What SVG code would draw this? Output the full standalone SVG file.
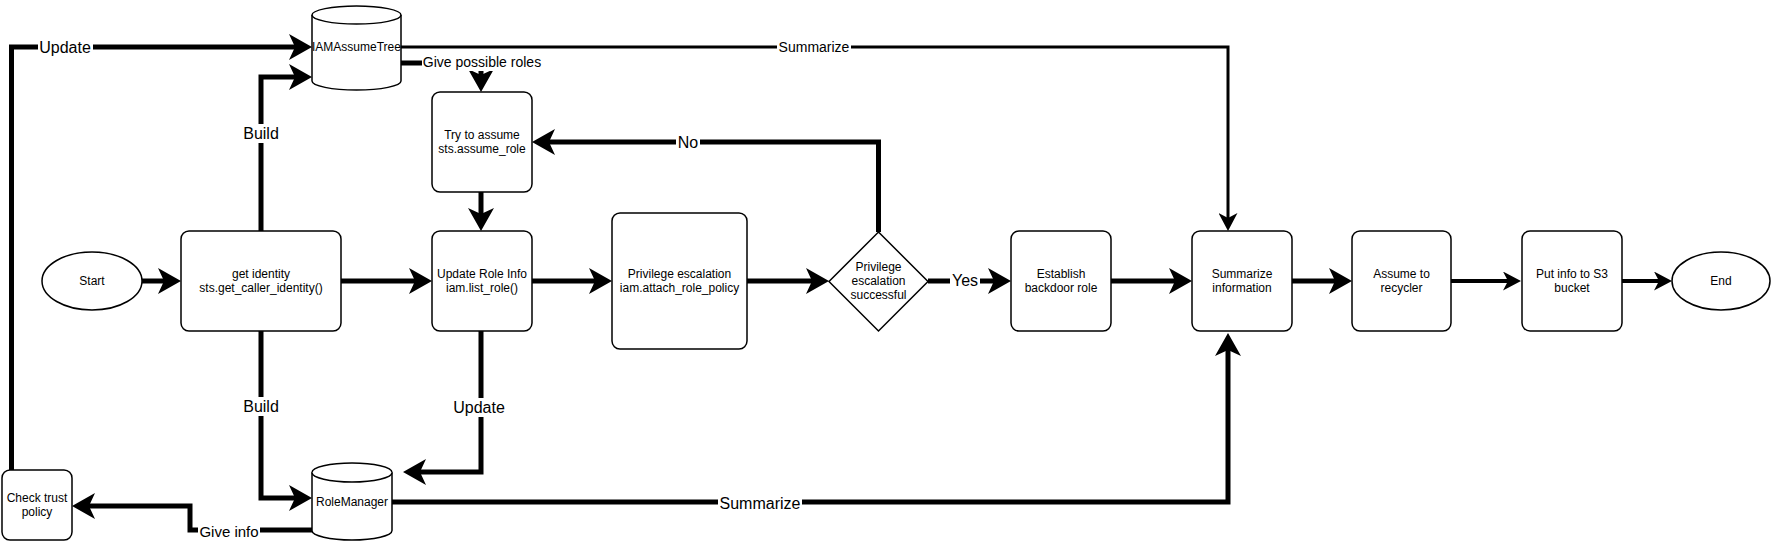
<svg xmlns="http://www.w3.org/2000/svg" width="1772" height="542" viewBox="0 0 1772 542">
<style>
text{font-family:"Liberation Sans",Arial,Helvetica,sans-serif;fill:#000;text-anchor:middle;dominant-baseline:central}
.nt{font-size:12px}
.shape{fill:#fff;stroke:#000;stroke-width:1.5}
.e5{fill:none;stroke:#000;stroke-width:5;marker-end:url(#ab)}
.e4{fill:none;stroke:#000;stroke-width:4;marker-end:url(#as)}
.e3{fill:none;stroke:#000;stroke-width:3;marker-end:url(#as)}
.lb{fill:#fff;stroke:none}
.l16{font-size:16px}
.l15{font-size:15px}
.l14{font-size:14px}
</style>
<defs>
<marker id="ab" markerUnits="userSpaceOnUse" markerWidth="24" markerHeight="26" viewBox="0 0 24 26" refX="8" refY="13" orient="auto">
<path d="M0,0 L23,13 L0,26 L6,13 Z" fill="#000"/>
</marker>
<marker id="as" markerUnits="userSpaceOnUse" markerWidth="19" markerHeight="19" viewBox="0 0 19 19" refX="6" refY="9.5" orient="auto">
<path d="M0,0 L18,9.5 L0,19 L5,9.5 Z" fill="#000"/>
</marker>
</defs>
<g id="connectors">
<path class="e5" d="M142,281 H166"/>
<path class="e5" d="M341,281 H417"/>
<path class="e5" d="M532,281 H597"/>
<path class="e5" d="M747,281 H814"/>
<path class="e5" d="M928,281 H996"/>
<path class="e5" d="M1111,281 H1177"/>
<path class="e5" d="M1292,281 H1337"/>
<path class="e4" d="M1451,281 H1509"/>
<path class="e4" d="M1622,281 H1660"/>
<path class="e5" d="M481,192 V216"/>
<path class="e5" d="M878.5,232 V142 H547"/>
<path class="e5" d="M401,63 H481 V77"/>
<path class="e5" d="M11.5,470 V47 H297"/>
<path class="e5" d="M261,231 V77 H297"/>
<path class="e5" d="M261,331 V498 H297"/>
<path class="e5" d="M481,331 V472 H418"/>
<path class="e5" d="M312,530 H190 V506 H87"/>
<path class="e5" d="M392,502 H1228 V348"/>
<path class="e3" d="M401,47 H1228 V219"/>
<g id="edge-labels">
<rect class="lb" x="38" y="38" width="55" height="19"/><text class="l16" x="65" y="47">Update</text>
<rect class="lb" x="242" y="124" width="38" height="19"/><text class="l16" x="261" y="133">Build</text>
<rect class="lb" x="242" y="397" width="38" height="19"/><text class="l16" x="261" y="406">Build</text>
<rect class="lb" x="452" y="398" width="55" height="19"/><text class="l16" x="479" y="407">Update</text>
<rect class="lb" x="676" y="133" width="24" height="19"/><text class="l16" x="688" y="142">No</text>
<rect class="lb" x="950" y="271" width="30" height="19"/><text class="l16" x="965" y="280">Yes</text>
<rect class="lb" x="198" y="522" width="62" height="18"/><text class="l15" x="229" y="531">Give info</text>
<rect class="lb" x="422" y="54" width="121" height="17"/><text class="l14" x="482" y="62">Give possible roles</text>
<rect class="lb" x="777" y="39" width="74" height="17"/><text class="l14" x="814" y="47">Summarize</text>
<rect class="lb" x="718" y="493" width="84" height="19"/><text class="l16" x="760" y="503">Summarize</text>
</g>
</g>
<g id="start"><ellipse class="shape" cx="92" cy="281" rx="50" ry="29"/><text class="nt" x="92" y="281">Start</text></g>
<g id="get-identity"><rect class="shape" x="181" y="231" width="160" height="100" rx="8"/><text class="nt" x="261" y="281"><tspan x="261" dy="-7.25">get identity</tspan><tspan x="261" dy="14.5">sts.get_caller_identity()</tspan></text></g>
<g id="update-role-info"><rect class="shape" x="432" y="231" width="100" height="100" rx="8"/><text class="nt" x="482" y="281"><tspan x="482" dy="-7.25">Update Role Info</tspan><tspan x="482" dy="14.5">iam.list_role()</tspan></text></g>
<g id="try-assume"><rect class="shape" x="432" y="92" width="100" height="100" rx="8"/><text class="nt" x="482" y="142"><tspan x="482" dy="-7.25">Try to assume</tspan><tspan x="482" dy="14.5">sts.assume_role</tspan></text></g>
<g id="priv-esc"><rect class="shape" x="612" y="213" width="135" height="136" rx="8"/><text class="nt" x="679.5" y="281"><tspan x="679.5" dy="-7.25">Privilege escalation</tspan><tspan x="679.5" dy="14.5">iam.attach_role_policy</tspan></text></g>
<g id="decision"><path class="shape" d="M878.5,232 L928,281.5 L878.5,331 L829,281.5 Z"/><text class="nt" x="878.5" y="281"><tspan x="878.5" dy="-14">Privilege</tspan><tspan x="878.5" dy="14">escalation</tspan><tspan x="878.5" dy="14">successful</tspan></text></g>
<g id="establish"><rect class="shape" x="1011" y="231" width="100" height="100" rx="8"/><text class="nt" x="1061" y="281"><tspan x="1061" dy="-7.25">Establish</tspan><tspan x="1061" dy="14.5">backdoor role</tspan></text></g>
<g id="summarize"><rect class="shape" x="1192" y="231" width="100" height="100" rx="8"/><text class="nt" x="1242" y="281"><tspan x="1242" dy="-7.25">Summarize</tspan><tspan x="1242" dy="14.5">information</tspan></text></g>
<g id="assume-recycler"><rect class="shape" x="1352" y="231" width="99" height="100" rx="8"/><text class="nt" x="1401.5" y="281"><tspan x="1401.5" dy="-7.25">Assume to</tspan><tspan x="1401.5" dy="14.5">recycler</tspan></text></g>
<g id="put-s3"><rect class="shape" x="1522" y="231" width="100" height="100" rx="8"/><text class="nt" x="1572" y="281"><tspan x="1572" dy="-7.25">Put info to S3</tspan><tspan x="1572" dy="14.5">bucket</tspan></text></g>
<g id="end"><ellipse class="shape" cx="1721" cy="281" rx="49" ry="29"/><text class="nt" x="1721" y="281">End</text></g>
<g id="check-trust"><rect class="shape" x="2" y="470" width="70" height="70" rx="8"/><text class="nt" x="37" y="505"><tspan x="37" dy="-7.25">Check trust</tspan><tspan x="37" dy="14.5">policy</tspan></text></g>
<g id="iam-assume-tree"><path class="shape" d="M312,15 L312,81 A44.5,9 0 0 0 401,81 L401,15 A44.5,9 0 0 0 312,15 Z"/><path class="shape" fill="none" d="M312,15 A44.5,9 0 0 0 401,15"/><text class="nt" x="356.5" y="47">IAMAssumeTree</text></g>
<g id="role-manager"><path class="shape" d="M312,472.5 L312,530.5 A40,9.5 0 0 0 392,530.5 L392,472.5 A40,9.5 0 0 0 312,472.5 Z"/><path class="shape" d="M312,472.5 A40,9.5 0 0 0 392,472.5"/><text class="nt" x="352" y="502">RoleManager</text></g>
</svg>
